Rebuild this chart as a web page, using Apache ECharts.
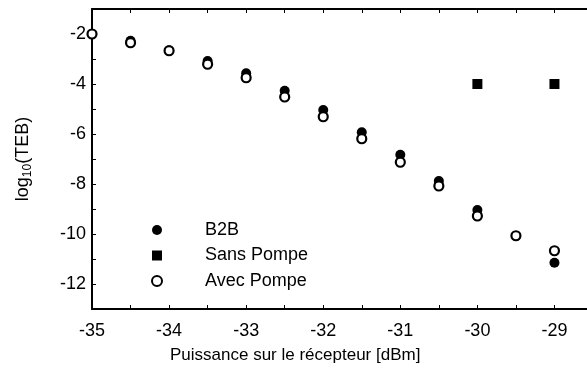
<!DOCTYPE html>
<html>
<head>
<meta charset="utf-8">
<script src="https://cdn.jsdelivr.net/npm/echarts@6/dist/echarts.min.js"></script>
<style>html,body{margin:0;padding:0;background:#fff}#c{width:587px;height:369px}</style>
</head>
<body>
<div id="c"></div>
<script>
const power = [-35, -34.5, -34, -33.5, -33, -32.5, -32, -31.5, -31, -30.5, -30, -29.5, -29];
const b2b = [-2.0, -2.27, -2.65, -3.08, -3.57, -4.27, -5.04, -5.93, -6.83, -7.88, -9.04, null, -11.15];
const sansPompeX = [-30, -29];
const sansPompe = [-4.0, -4.0];
const avecPompe = [-2.0, -2.35, -2.67, -3.21, -3.75, -4.52, -5.31, -6.19, -7.13, -8.08, -9.28, -10.07, -10.67];
const names = ['B2B', 'Sans Pompe', 'Avec Pompe'];

const FONT = 'Liberation Sans, Arial, sans-serif';
const pair = (xs, ys) => xs.map((x, i) => [x, ys[i]]).filter(p => p[1] !== null);

const chart = echarts.init(document.getElementById('c'), null, {renderer: 'canvas'});
const axisLine = {show: true, lineStyle: {color: '#000', width: 2}};
const tick = {show: true, inside: true, length: 4, lineStyle: {color: '#000', width: 1}};
chart.setOption({
  animation: false,
  backgroundColor: '#fff',
  grid: {left: 92, top: 9, width: 501, height: 300, containLabel: false, outerBoundsMode: 'none'},
  xAxis: [{
    type: 'value', min: -35, max: -28.5, interval: 0.5, position: 'bottom',
    axisLine, axisTick: tick, splitLine: {show: false},
    axisLabel: {color: '#000', fontSize: 18, fontFamily: FONT, margin: 13,
      formatter: v => Number.isInteger(v) ? String(v) : ''}
  }, {
    type: 'value', min: -35, max: -28.5, interval: 0.5, position: 'top',
    axisLine, axisTick: tick, splitLine: {show: false}, axisLabel: {show: false}
  }],
  yAxis: [{
    type: 'value', min: -13, max: -1, interval: 1,
    axisLine, axisTick: tick, splitLine: {show: false},
    axisLabel: {color: '#000', fontSize: 18, fontFamily: FONT, margin: 6,
      formatter: v => (v % 2 === 0) ? String(v) : ''},
    name: '{a|log}{b|10}{a|(TEB)}', nameLocation: 'middle', nameRotate: 90, nameGap: 58,
    nameTextStyle: {
      rich: {a: {fontSize: 18, fontFamily: FONT, color: '#000'},
             b: {fontSize: 12, fontFamily: FONT, color: '#000', padding: [10, 0, 0, 0]}}
    }
  }],
  legend: {
    orient: 'vertical', left: 146, top: 216, itemWidth: 10, itemHeight: 10, itemGap: 7.5,
    data: names,
    textStyle: {color: '#000', fontSize: 18, lineHeight: 16, fontFamily: FONT, padding: [0, 0, 0, 38]}
  },
  graphic: [{
    type: 'text', left: 170, top: 347,
    style: {text: 'Puissance sur le récepteur [dBm]', fill: '#000', font: '17px ' + FONT}
  }],
  series: [{
    name: names[0], type: 'scatter', symbol: 'circle', symbolSize: 10,
    itemStyle: {color: '#000', opacity: 1}, data: pair(power, b2b)
  }, {
    name: names[1], type: 'scatter', symbol: 'rect', symbolSize: 10,
    itemStyle: {color: '#000', opacity: 1}, data: pair(sansPompeX, sansPompe)
  }, {
    name: names[2], type: 'scatter', symbol: 'circle', symbolSize: 9,
    itemStyle: {color: '#fff', borderColor: '#000', borderWidth: 2.2, opacity: 1}, data: pair(power, avecPompe)
  }]
});
</script>
</body>
</html>
